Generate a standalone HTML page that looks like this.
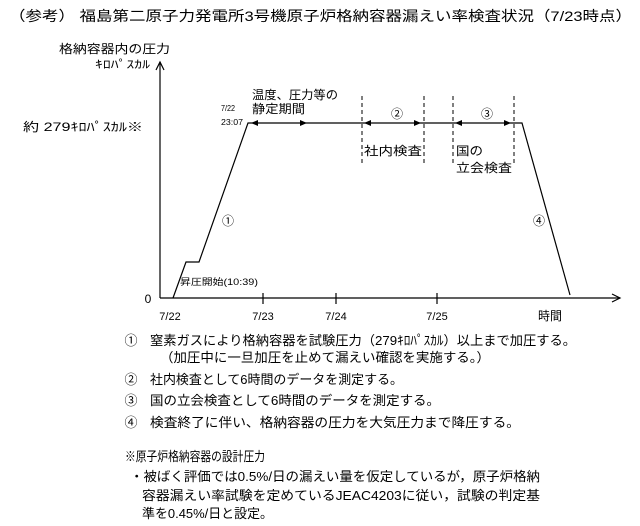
<!DOCTYPE html>
<html><head><meta charset="utf-8"><style>
html,body{margin:0;padding:0;background:#fff;}
svg{display:block;}
text{font-family:"Liberation Sans","Noto Sans CJK JP","WenQuanYi Zen Hei",sans-serif;fill:#000;}
</style></head><body>
<svg width="640" height="526" viewBox="0 0 640 526" xmlns="http://www.w3.org/2000/svg">
<text x="9" y="21" font-size="14" textLength="623" lengthAdjust="spacingAndGlyphs">（参考） 福島第二原子力発電所3号機原子炉格納容器漏えい率検査状況（7/23時点）</text>

<text x="59" y="53" font-size="12" textLength="111" lengthAdjust="spacingAndGlyphs">格納容器内の圧力</text>
<text x="95" y="68" font-size="11" textLength="55" lengthAdjust="spacingAndGlyphs">ｷﾛﾊﾟｽｶﾙ</text>
<text x="23" y="131" font-size="12" textLength="120" lengthAdjust="spacingAndGlyphs">約  279ｷﾛﾊﾟｽｶﾙ※</text>

<g stroke="#000" stroke-width="1.2" fill="none">
<line x1="160" y1="62" x2="160" y2="298"/>
<polyline points="156,70 160,62 164,70"/>
<line x1="160" y1="298" x2="620" y2="298"/>
<polyline points="612,294 620,298 612,302"/>
<line x1="263" y1="293" x2="263" y2="304"/>
<line x1="336" y1="293" x2="336" y2="304"/>
<line x1="437" y1="293" x2="437" y2="304"/>
<polyline points="173,298 186,262 199,262 248,123 522,123 570,295"/>
</g>
<g stroke="#000" stroke-width="1" stroke-dasharray="4,3">
<line x1="362" y1="96" x2="362" y2="165"/>
<line x1="424" y1="96" x2="424" y2="165"/>
<line x1="453" y1="96" x2="453" y2="165"/>
<line x1="514" y1="96" x2="514" y2="165"/>
</g>
<g fill="#000">
<polygon points="251,123 258,120 258,126"/>
<polygon points="307,123 300,120 300,126"/>
<polygon points="364,123 371,120 371,126"/>
<polygon points="421,123 414,120 414,126"/>
<polygon points="455,123 462,120 462,126"/>
<polygon points="511,123 504,120 504,126"/>
</g>

<text x="252" y="99" font-size="12" textLength="86" lengthAdjust="spacingAndGlyphs">温度、圧力等の</text>
<text x="252" y="113" font-size="12" textLength="53" lengthAdjust="spacingAndGlyphs">静定期間</text>
<text x="221" y="111" font-size="8" textLength="14" lengthAdjust="spacingAndGlyphs">7/22</text>
<text x="221" y="125" font-size="8" textLength="22" lengthAdjust="spacingAndGlyphs">23:07</text>
<text x="397" y="118" font-size="12" text-anchor="middle">②</text>
<text x="487" y="118" font-size="12" text-anchor="middle">③</text>
<text x="364" y="155" font-size="12" textLength="58" lengthAdjust="spacingAndGlyphs">社内検査</text>
<text x="456" y="155" font-size="12" textLength="27" lengthAdjust="spacingAndGlyphs">国の</text>
<text x="456" y="172" font-size="12" textLength="56" lengthAdjust="spacingAndGlyphs">立会検査</text>
<text x="228" y="225" font-size="12" text-anchor="middle">①</text>
<text x="539" y="225" font-size="12" text-anchor="middle">④</text>
<text x="180" y="285" font-size="9" textLength="78" lengthAdjust="spacingAndGlyphs">昇圧開始(10:39)</text>
<text x="148" y="303" font-size="12" text-anchor="middle">0</text>
<text x="170" y="320" font-size="11" text-anchor="middle">7/22</text>
<text x="263" y="320" font-size="11" text-anchor="middle">7/23</text>
<text x="336" y="320" font-size="11" text-anchor="middle">7/24</text>
<text x="437" y="320" font-size="11" text-anchor="middle">7/25</text>
<text x="550" y="320" font-size="12" text-anchor="middle">時間</text>

<g font-size="13">
<text x="131" y="345" text-anchor="middle">①</text>
<text x="150" y="345" textLength="426" lengthAdjust="spacingAndGlyphs">窒素ガスにより格納容器を試験圧力（279ｷﾛﾊﾟｽｶﾙ）以上まで加圧する。</text>
<text x="160" y="362" textLength="330" lengthAdjust="spacingAndGlyphs">（加圧中に一旦加圧を止めて漏えい確認を実施する。）</text>
<text x="131" y="384" text-anchor="middle">②</text>
<text x="150" y="384" textLength="253" lengthAdjust="spacingAndGlyphs">社内検査として6時間のデータを測定する。</text>
<text x="131" y="405" text-anchor="middle">③</text>
<text x="150" y="405" textLength="290" lengthAdjust="spacingAndGlyphs">国の立会検査として6時間のデータを測定する。</text>
<text x="131" y="427" text-anchor="middle">④</text>
<text x="150" y="427" textLength="370" lengthAdjust="spacingAndGlyphs">検査終了に伴い、格納容器の圧力を大気圧力まで降圧する。</text>
<text x="125" y="461" textLength="140" lengthAdjust="spacingAndGlyphs">※原子炉格納容器の設計圧力</text>
<text x="130" y="481" textLength="410" lengthAdjust="spacingAndGlyphs">・被ばく評価では0.5%/日の漏えい量を仮定しているが，原子炉格納</text>
<text x="142" y="500" textLength="398" lengthAdjust="spacingAndGlyphs">容器漏えい率試験を定めているJEAC4203に従い，試験の判定基</text>
<text x="142" y="518" textLength="131" lengthAdjust="spacingAndGlyphs">準を0.45%/日と設定。</text>
</g>
</svg>
</body></html>
